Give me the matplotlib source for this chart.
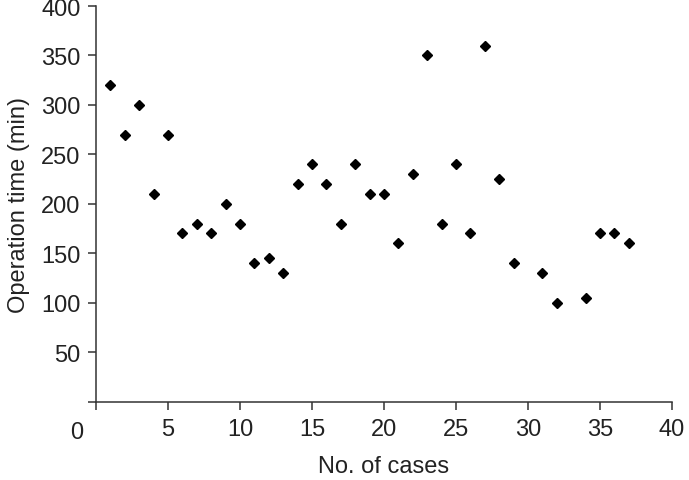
import matplotlib.pyplot as plt

plt.rcParams['font.family'] = ['Liberation Sans', 'DejaVu Sans']

# case numbers and operation times
cases = [1, 2, 3, 4, 5, 6, 7, 8, 9, 10, 11, 12, 13, 14, 15, 16, 17, 18, 19,
         20, 21, 22, 23, 24, 25, 26, 27, 28, 29, 31, 32, 34, 35, 36, 37]
op_time = [320, 270, 300, 210, 270, 170, 180, 170, 200, 180, 140, 145, 130,
           220, 240, 220, 180, 240, 210, 210, 160, 230, 350, 180, 240, 170,
           360, 225, 140, 130, 100, 105, 170, 170, 160]

x_ticks = [0, 5, 10, 15, 20, 25, 30, 35, 40]
y_ticks = [0, 50, 100, 150, 200, 250, 300, 350, 400]

fig = plt.figure(figsize=(6.89, 4.81), dpi=100)
ax = fig.add_axes([0.1393, 0.1632, 0.836, 0.8222])

ax.plot(cases, op_time, 'D', color='black', markersize=5.3, linestyle='none',
        clip_on=False)

ax.set_xlim(0, 40)
ax.set_ylim(0, 400)
ax.set_xticks(x_ticks)
ax.set_xticklabels([''] + [str(t) for t in x_ticks[1:]])
ax.set_yticks(y_ticks)
ax.set_yticklabels([''] + [str(t) for t in y_ticks[1:]])

txt_col = '#222222'
fs = 17
ax.tick_params(direction='out', length=6, width=1.1, colors='#333333',
               labelsize=fs, labelcolor=txt_col)
ax.tick_params(axis='x', pad=6)
ax.tick_params(axis='y', pad=5)
for side in ['top', 'right']:
    ax.spines[side].set_visible(False)
for side in ['left', 'bottom']:
    ax.spines[side].set_linewidth(1.1)
    ax.spines[side].set_color('#333333')

# shared origin label sits left of the corner
ax.text(-1.35, -31, '0', fontsize=fs, color=txt_col, ha='center', va='center',
        clip_on=False)

ax.set_xlabel('No. of cases', fontsize=fs, color=txt_col, labelpad=11)
ax.set_ylabel('Operation time (min)', fontsize=fs, color=txt_col, labelpad=8)

fig.savefig('out.png', dpi=100)
